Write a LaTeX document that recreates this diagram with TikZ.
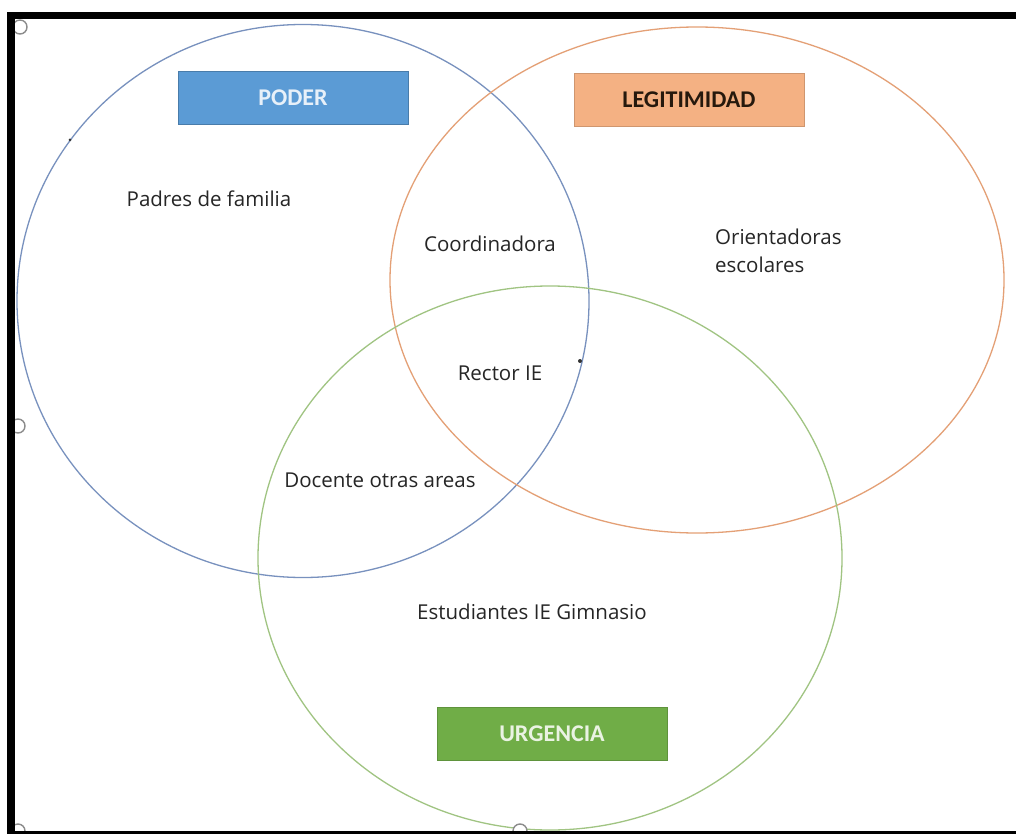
\documentclass[tikz,border=0pt]{standalone}
\usepackage{fontspec}
\setmainfont{Open Sans}
\newfontfamily\boxfont{Carlito}
\usetikzlibrary{positioning, shapes.geometric}
\definecolor{poderblue}{RGB}{91, 155, 213}
\definecolor{legitorange}{RGB}{244, 177, 131}
\definecolor{urgengreen}{RGB}{112, 173, 71}
\definecolor{ringblue}{RGB}{120, 145, 190}
\definecolor{ringorange}{RGB}{228, 160, 118}
\definecolor{ringgreen}{RGB}{160, 196, 130}
\definecolor{handlegray}{RGB}{140, 140, 140}
\tikzset{
    setbox/.style={
        rectangle, minimum width=230pt, minimum height=53pt, inner sep=0pt,
        font=\boxfont\bfseries\fontsize{24}{28}\selectfont
    },
    setring/.style={
        ellipse, draw, line width=1.3pt, inner sep=0pt
    },
    member/.style={
        font=\fontsize{20.5}{28}\selectfont, text=black!85, inner sep=0pt
    },
    handle/.style={
        circle, draw=handlegray, fill=white, line width=1.4pt, minimum size=14pt, inner sep=0pt
    }
}

\begin{document}
\begin{tikzpicture}[x=1pt, y=-1pt]
    \useasboundingbox (0,0) rectangle (1016,834);
    \fill[white] (0,0) rectangle (1016,834);

    % --- CONJUNTOS ---
    \node[setring, draw=ringblue, minimum width=572pt, minimum height=553pt] (ringP) at (303,301) {};
    \node[setring, draw=ringorange, minimum width=614pt, minimum height=506pt] (ringL) at (697,280) {};
    \node[setring, draw=ringgreen, minimum width=584pt, minimum height=544pt] (ringU) at (550,558) {};

    % --- ETIQUETAS ---
    \node[setbox, fill=poderblue, draw=poderblue!80!black, text=white!85!poderblue] (poder) at (293,98) {PODER};
    \node[setbox, fill=legitorange, draw=legitorange!85!black, text=black!80!brown] (legit) at (689,100) {LEGITIMIDAD};
    \node[setbox, fill=urgengreen, draw=urgengreen!85!black, text=white!85!urgengreen] (urgen) at (552,734) {URGENCIA};

    % --- ACTORES ---
    \node[member] (padres) at (209,199) {Padres de familia};
    \node[member] (coord) at (490,244) {Coordinadora};
    \node[member, anchor=west, align=left] (orient) at (715,251) {Orientadoras\\escolares};
    \node[member] (rector) at (500,373) {Rector IE};
    \node[member] (docente) at (380,480) {Docente otras areas};
    \node[member] (estud) at (532,612) {Estudiantes IE Gimnasio};

    % marcas pequeñas
    \fill[black!80] (70,140) circle (1.5pt);
    \fill[black!80] (580,361) circle (2pt);

    % --- MANIJAS Y MARCO ---
    \node[handle] (h1) at (20,27) {};
    \node[handle] (h2) at (18,426) {};
    \node[handle] (h3) at (18,831) {};
    \node[handle] (h4) at (520,831) {};
    \fill[black] (7,12) rectangle (1016,19);
    \fill[black] (7,12) rectangle (15,834);
    \fill[black] (7,831) rectangle (1016,834);
\end{tikzpicture}
\end{document}
